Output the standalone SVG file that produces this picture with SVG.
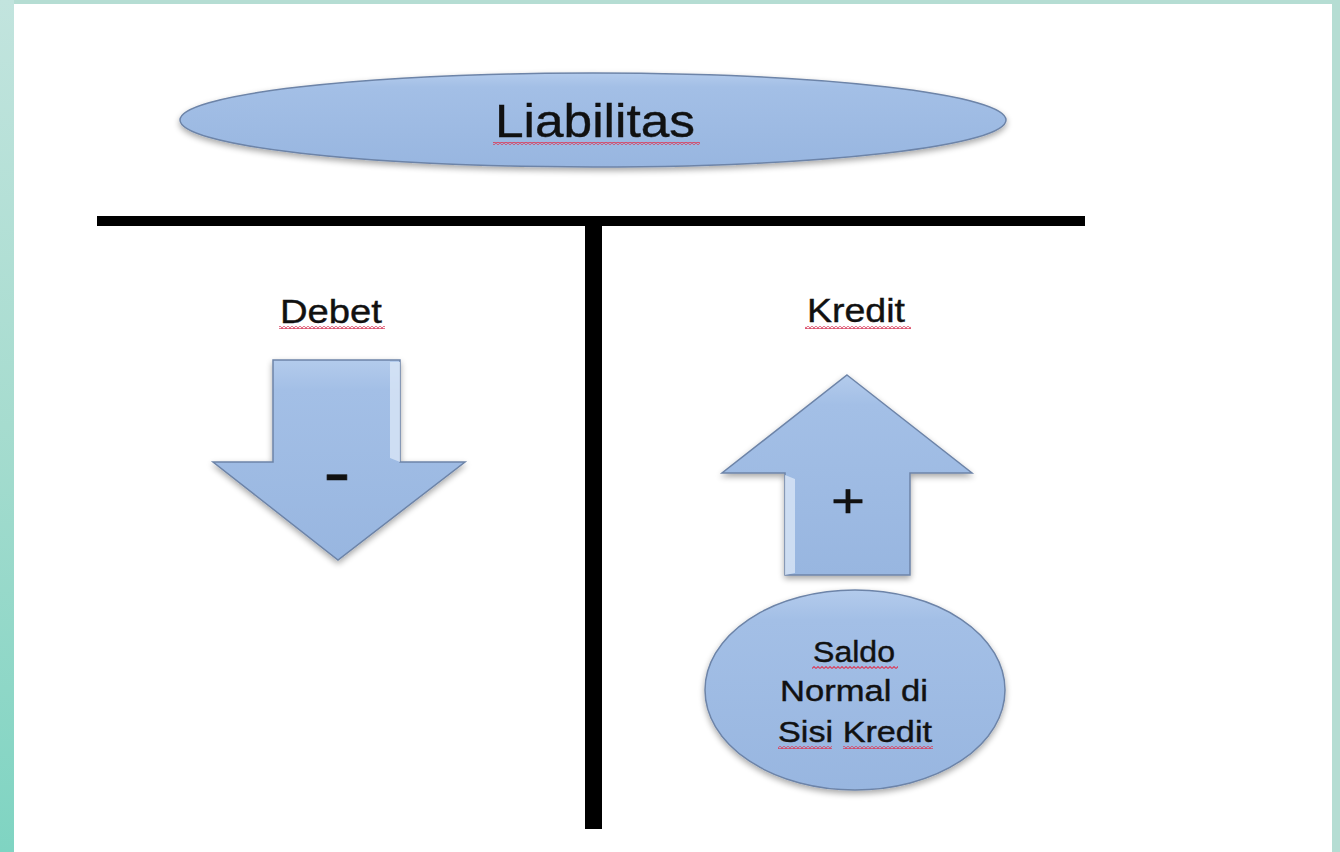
<svg xmlns="http://www.w3.org/2000/svg" width="1340" height="852" viewBox="0 0 1340 852">
  <defs>
    <linearGradient id="tealLeft" x1="0" y1="0" x2="0" y2="1">
      <stop offset="0" stop-color="#c2e4de"/>
      <stop offset="0.5" stop-color="#a6dccf"/>
      <stop offset="1" stop-color="#7fd4c2"/>
    </linearGradient>
    <linearGradient id="shapeFill" x1="0" y1="0" x2="0" y2="1">
      <stop offset="0" stop-color="#b3cbec"/>
      <stop offset="0.15" stop-color="#a3bfe6"/>
      <stop offset="1" stop-color="#98b6e0"/>
    </linearGradient>
    <filter id="shadow" x="-10%" y="-20%" width="120%" height="140%">
      <feGaussianBlur in="SourceAlpha" stdDeviation="3"/>
      <feOffset dx="0" dy="3" result="b"/>
      <feComponentTransfer><feFuncA type="linear" slope="0.35"/></feComponentTransfer>
      <feMerge><feMergeNode/><feMergeNode in="SourceGraphic"/></feMerge>
    </filter>
    <pattern id="squiggle" width="4" height="3" patternUnits="userSpaceOnUse">
      <path d="M0,2.5 L2,0.5 L4,2.5" fill="none" stroke="#d8405e" stroke-width="1.1"/>
    </pattern>
    <style>
      .shape { fill: url(#shapeFill); stroke: #6d84a8; stroke-width: 1.5; filter: url(#shadow); }
      .lbl { font-family: "Liberation Sans", Arial, sans-serif; fill: #111; text-anchor: middle; stroke: #111; stroke-width: 0.4; }
      .sq { fill: url(#squiggle); }
      .bar { fill: #000; }
    </style>
  </defs>

  <!-- background frame -->
  <rect x="0" y="0" width="1340" height="852" fill="#b5ddd3"/>
  <rect x="0" y="0" width="14" height="852" fill="url(#tealLeft)"/>
  <rect x="14" y="4" width="1318" height="848" fill="#ffffff"/>

  <!-- T-account lines -->
  <g id="connectors">
    <rect class="bar" x="97" y="216" width="988" height="10"/>
    <rect class="bar" x="585" y="216" width="17" height="613"/>
  </g>

  <g id="liabilitas">
    <ellipse class="shape" cx="593" cy="120" rx="413" ry="47"/>
    <text class="lbl" x="595" y="137" font-size="47" textLength="200" lengthAdjust="spacingAndGlyphs">Liabilitas</text>
    <rect class="sq" x="493" y="142" width="207" height="3"/>
  </g>

  <g id="debet">
    <text class="lbl" x="331" y="323" font-size="34" textLength="102" lengthAdjust="spacingAndGlyphs">Debet</text>
    <rect class="sq" x="279" y="326" width="106" height="3"/>
  </g>

  <g id="kredit">
    <text class="lbl" x="856" y="322" font-size="34" textLength="98" lengthAdjust="spacingAndGlyphs">Kredit</text>
    <rect class="sq" x="805" y="326" width="106" height="3"/>
  </g>

  <g id="arrow-down">
    <path class="shape" d="M273,360 L400,360 L400,462 L465,462 L338,560 L213,462 L273,462 Z"/>
    <path d="M390,362 L400,362 L400,462 L390,458 Z" fill="#d9e6f6" opacity="0.8"/>
    <text class="lbl" x="337" y="489" font-size="44" font-weight="bold" textLength="26" lengthAdjust="spacingAndGlyphs">-</text>
  </g>

  <g id="arrow-up">
    <path class="shape" d="M847,375 L972,473 L910,473 L910,575 L785,575 L785,473 L722,473 Z"/>
    <path d="M785,475 L795,479 L795,573 L785,575 Z" fill="#d9e6f6" opacity="0.8"/>
    <text class="lbl" x="848" y="517" font-size="48" textLength="34" lengthAdjust="spacingAndGlyphs" stroke-width="1.2">+</text>
  </g>

  <g id="saldo-normal">
    <ellipse class="shape" cx="855" cy="690" rx="150" ry="100"/>
    <text class="lbl" x="854" y="662" font-size="29" textLength="82" lengthAdjust="spacingAndGlyphs">Saldo</text>
    <rect class="sq" x="812" y="666" width="86" height="3"/>
    <text class="lbl" x="854" y="701" font-size="29" textLength="148" lengthAdjust="spacingAndGlyphs">Normal di</text>
    <text class="lbl" x="855" y="742" font-size="29" textLength="154" lengthAdjust="spacingAndGlyphs">Sisi Kredit</text>
    <rect class="sq" x="778" y="746" width="54" height="3"/>
    <rect class="sq" x="843" y="746" width="90" height="3"/>
  </g>
</svg>
